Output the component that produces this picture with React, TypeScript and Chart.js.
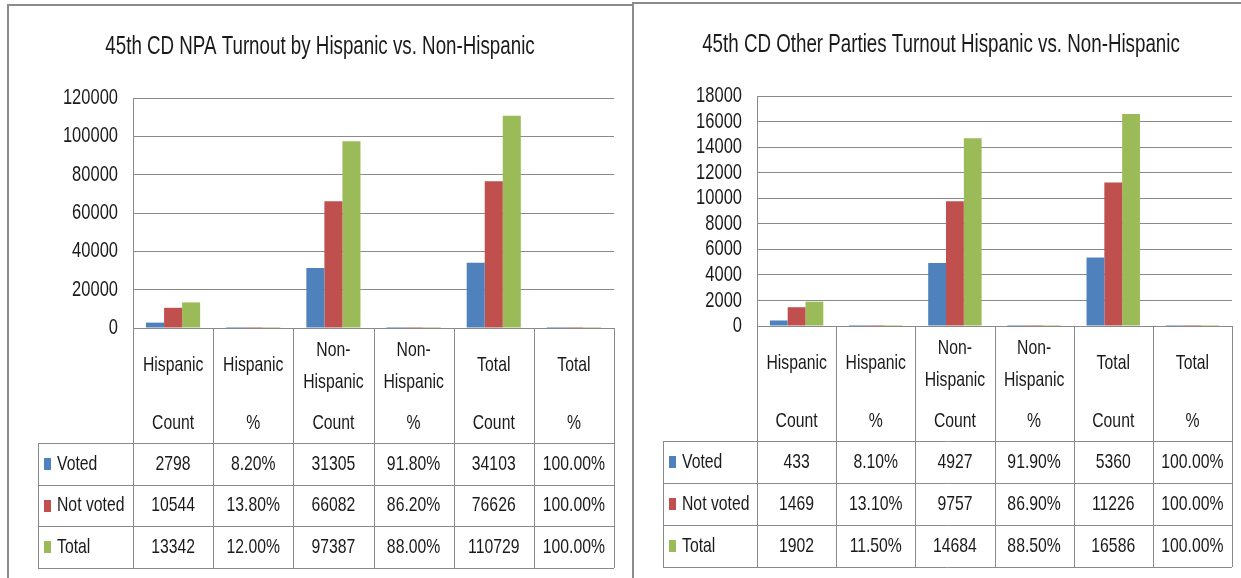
import React, { useEffect, useRef } from "react";
import { Chart, registerables } from "chart.js";

Chart.register(...registerables);

const FONT = "'Liberation Sans', Arial, sans-serif";
const SX = 0.75; // horizontal squeeze to mimic the condensed look
const TEXT = "#1a1a1a";
const GRID = "#8a8a8a";
const H = 578;

// ---- shared data ----
const categories = [
  "Hispanic Count",
  "Hispanic %",
  "Non-Hispanic Count",
  "Non-Hispanic %",
  "Total Count",
  "Total %",
];
const categoryTopLines = [
  ["Hispanic"],
  ["Hispanic"],
  ["Non-", "Hispanic"],
  ["Non-", "Hispanic"],
  ["Total"],
  ["Total"],
];
const categoryBottomLines = ["Count", "%", "Count", "%", "Count", "%"];
const isPercentColumn = [false, true, false, true, false, true];
const seriesNames = ["Voted", "Not voted", "Total"];
const seriesColors = ["#4F81BD", "#C0504D", "#9BBB59"];

// ---- left chart: NPA ----
const npaTitle = "45th CD NPA Turnout by Hispanic vs. Non-Hispanic";
const npaVoted = [2798, 0.082, 31305, 0.918, 34103, 1.0];
const npaNotVoted = [10544, 0.138, 66082, 0.862, 76626, 1.0];
const npaTotal = [13342, 0.12, 97387, 0.88, 110729, 1.0];
const npaTicks = [0, 20000, 40000, 60000, 80000, 100000, 120000];

// ---- right chart: Other parties ----
const otherTitle = "45th CD Other Parties Turnout Hispanic vs. Non-Hispanic";
const otherVoted = [433, 0.081, 4927, 0.919, 5360, 1.0];
const otherNotVoted = [1469, 0.131, 9757, 0.869, 11226, 1.0];
const otherTotal = [1902, 0.115, 14684, 0.885, 16586, 1.0];
const otherTicks = [0, 2000, 4000, 6000, 8000, 10000, 12000, 14000, 16000, 18000];

type Cfg = {
  title: string;
  series: number[][];
  ticks: number[];
  canvasLeft: number;
  canvasWidth: number;
  plotLeft: number;
  plotRight: number;
  plotTop: number;
  plotBottom: number;
  headerBottom: number;
  tableBottom: number;
  legendLeft: number;
  titleX: number;
  titleY: number;
};

const leftCfg: Cfg = {
  title: npaTitle,
  series: [npaVoted, npaNotVoted, npaTotal],
  ticks: npaTicks,
  canvasLeft: 0,
  canvasWidth: 633,
  plotLeft: 133,
  plotRight: 614,
  plotTop: 98,
  plotBottom: 328,
  headerBottom: 443,
  tableBottom: 568,
  legendLeft: 38,
  titleX: 320,
  titleY: 47,
};

const rightCfg: Cfg = {
  title: otherTitle,
  series: [otherVoted, otherNotVoted, otherTotal],
  ticks: otherTicks,
  canvasLeft: 633,
  canvasWidth: 608,
  plotLeft: 124,
  plotRight: 599,
  plotTop: 96,
  plotBottom: 326,
  headerBottom: 441,
  tableBottom: 567,
  legendLeft: 30,
  titleX: 308,
  titleY: 45,
};

function fmt(v: number, pct: boolean) {
  return pct ? (v * 100).toFixed(2) + "%" : String(Math.round(v));
}

function text(ctx: CanvasRenderingContext2D, s: string, x: number, y: number, align: CanvasTextAlign) {
  ctx.save();
  ctx.translate(x, y);
  ctx.scale(SX, 1);
  ctx.textAlign = align;
  ctx.textBaseline = "middle";
  ctx.fillText(s, 0, 0);
  ctx.restore();
}

const tablePlugin = {
  id: "dataTable",
  afterDraw(chart: any, _args: any, opts: any) {
    const cfg: Cfg = opts.cfg;
    const { ctx, chartArea } = chart;
    const x = chart.scales.x;
    const y = chart.scales.y;
    const n = chart.data.labels.length;
    const colW = (chartArea.right - chartArea.left) / n;
    const L = chartArea.left;
    const R = chartArea.right;
    const top = chartArea.bottom;
    const hb = cfg.headerBottom;
    const tb = cfg.tableBottom;
    const rowH = (tb - hb) / chart.data.datasets.length;
    const px = (v: number) => Math.round(v) + 0.5;

    ctx.save();
    // title
    ctx.fillStyle = TEXT;
    ctx.font = `25px ${FONT}`;
    text(ctx, cfg.title, cfg.titleX, cfg.titleY, "center");

    // y tick labels
    ctx.font = `22px ${FONT}`;
    y.ticks.forEach((t: any) => {
      text(ctx, String(t.value), L - 15, y.getPixelForValue(t.value), "right");
    });

    // table lines
    ctx.strokeStyle = GRID;
    ctx.lineWidth = 1;
    ctx.beginPath();
    for (let i = 0; i <= n; i++) {
      const xb = px(L + i * colW);
      ctx.moveTo(xb, top);
      ctx.lineTo(xb, tb);
    }
    ctx.moveTo(L, px(top));
    ctx.lineTo(R, px(top));
    for (let k = 0; k <= chart.data.datasets.length; k++) {
      const yb = px(hb + k * rowH);
      ctx.moveTo(cfg.legendLeft, yb);
      ctx.lineTo(R, yb);
    }
    ctx.moveTo(px(cfg.legendLeft), hb);
    ctx.lineTo(px(cfg.legendLeft), tb);
    ctx.stroke();

    // header
    ctx.font = `21px ${FONT}`;
    ctx.fillStyle = TEXT;
    for (let i = 0; i < n; i++) {
      const cx = x.getPixelForValue(i);
      const tops = categoryTopLines[i];
      if (tops.length === 1) {
        text(ctx, tops[0], cx, top + 37, "center");
      } else {
        text(ctx, tops[0], cx, top + 22, "center");
        text(ctx, tops[1], cx, top + 54, "center");
      }
      text(ctx, categoryBottomLines[i], cx, top + 95, "center");
    }

    // rows
    chart.data.datasets.forEach((ds: any, k: number) => {
      const cy = hb + k * rowH + rowH / 2;
      ctx.fillStyle = ds.backgroundColor;
      ctx.fillRect(cfg.legendLeft + 6, Math.round(cy - 6), 7, 12);
      ctx.fillStyle = TEXT;
      text(ctx, ds.label, cfg.legendLeft + 19, cy, "left");
      for (let i = 0; i < n; i++) {
        text(ctx, fmt(ds.data[i], isPercentColumn[i]), x.getPixelForValue(i), cy, "center");
      }
    });
    ctx.restore();
  },
};

function Panel({ cfg }: { cfg: Cfg }) {
  const ref = useRef<HTMLCanvasElement>(null);
  useEffect(() => {
    const canvas = ref.current!;
    const chart = new Chart(canvas, {
      type: "bar",
      data: {
        labels: categories,
        datasets: cfg.series.map((d, i) => ({
          label: seriesNames[i],
          data: d,
          backgroundColor: seriesColors[i],
          borderWidth: 0,
          inflateAmount: 0,
          categoryPercentage: 0.675,
          barPercentage: 1,
        })),
      },
      options: {
        responsive: false,
        animation: false,
        devicePixelRatio: 1,
        layout: {
          padding: {
            left: 0,
            right: cfg.canvasWidth - cfg.plotRight,
            top: cfg.plotTop,
            bottom: H - cfg.plotBottom,
          },
        },
        plugins: {
          legend: { display: false },
          title: { display: false },
          tooltip: { enabled: false },
          dataTable: { cfg },
        } as any,
        scales: {
          x: { display: false, offset: true },
          y: {
            min: 0,
            max: cfg.ticks[cfg.ticks.length - 1],
            afterFit: (s: any) => {
              s.width = cfg.plotLeft;
            },
            afterBuildTicks: (s: any) => {
              s.ticks = cfg.ticks.map((v) => ({ value: v }));
            },
            grid: { color: GRID, drawTicks: false, lineWidth: 1 },
            border: { display: true, color: GRID, width: 1 },
            ticks: { display: false, autoSkip: false },
          },
        },
      } as any,
      plugins: [tablePlugin as any],
    });
    return () => chart.destroy();
  }, [cfg]);
  return (
    <canvas
      ref={ref}
      width={cfg.canvasWidth}
      height={H}
      style={{ position: "absolute", left: cfg.canvasLeft, top: 0 }}
    />
  );
}

export default function App() {
  return (
    <div
      style={{
        position: "fixed",
        left: 0,
        top: 0,
        width: 1241,
        height: 578,
        overflow: "hidden",
        background: "#fff",
      }}
    >
      <Panel cfg={leftCfg} />
      <Panel cfg={rightCfg} />
      <div
        style={{
          position: "absolute",
          left: 7,
          top: 4,
          width: 627,
          height: 640,
          border: "2px solid #8c8c8c",
          boxSizing: "border-box",
          pointerEvents: "none",
        }}
      />
      <div
        style={{
          position: "absolute",
          left: 632,
          top: 2,
          width: 660,
          height: 640,
          border: "2px solid #8c8c8c",
          boxSizing: "border-box",
          pointerEvents: "none",
        }}
      />
    </div>
  );
}
